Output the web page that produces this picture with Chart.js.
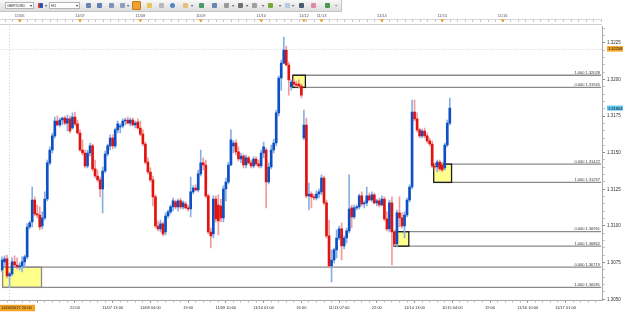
<!DOCTYPE html>
<html>
<head>
<meta charset="utf-8">
<script src="https://cdn.jsdelivr.net/npm/chart.js@4.4.1/dist/chart.umd.min.js"></script>
<style>
html, body { margin: 0; padding: 0; background: #fff; }
#wrap { position: relative; width: 625px; height: 313px; overflow: hidden; font-family: 'Liberation Sans', Arial, sans-serif; }
#chart { position: absolute; left: 0; top: 0; }
#toolbar { position: absolute; left: 0; top: 0; width: 341px; height: 11px; background: linear-gradient(#f8f8f8, #dcdcdc); border-bottom: 1px solid #c6c6c6; border-right: 1px solid #c6c6c6; }
.sel { position: absolute; top: 2px; height: 7px; background: #fff; border: 1px solid #b4b4b4; box-sizing: border-box; font-size: 4px; line-height: 6px; padding-left: 1px; color: #222; }
.sel b { position: absolute; right: 1px; top: 0; font-weight: normal; font-size: 4px; }
.ico { position: absolute; top: 3px; width: 5px; height: 5px; border-radius: 1px; }
.dd { position: absolute; top: 3px; font-size: 4px; color: #555; line-height: 5px; }
</style>
</head>
<body>
<div id="wrap">
  <canvas id="chart" width="625" height="313"></canvas>
  <div id="toolbar">
    <div class="sel" style="left:5px;width:29px">GBP/USD<b>&#9662;</b></div>
    <div class="ico" style="left:38px;background:linear-gradient(90deg,#d33 50%,#2458b8 50%)"></div>
    <div class="dd" style="left:45px">&#9662;</div>
    <div class="sel" style="left:49px;width:31px">H1<b>&#9662;</b></div>
    <div class="ico" style="left:86px;background:#6a86b0"></div>
    <div class="ico" style="left:97px;background:#5d7fb5"></div>
    <div class="ico" style="left:109px;background:#7d93b8"></div>
    <div class="ico" style="left:120px;background:#8aa0c0"></div>
    <div class="dd" style="left:127px">&#9662;</div>
    <div class="ico" style="left:132px;top:1px;width:9px;height:9px;background:#f0a030;border:1px solid #c77a10;box-sizing:border-box"></div>
    <div class="ico" style="left:147px;background:#e8c650"></div>
    <div class="ico" style="left:159px;background:#b8b8b8"></div>
    <div class="ico" style="left:170px;background:#4f86c8;border-radius:3px"></div>
    <div class="ico" style="left:183px;background:#e2c27a"></div>
    <div class="dd" style="left:191px">&#9662;</div>
    <div class="ico" style="left:199px;background:#4a9a64"></div>
    <div class="ico" style="left:212px;background:#6b87b8"></div>
    <div class="ico" style="left:224px;background:#9a9a9a"></div>
    <div class="dd" style="left:232px">&#9662;</div>
    <div class="ico" style="left:238px;background:#707070"></div>
    <div class="dd" style="left:246px">&#9662;</div>
    <div class="ico" style="left:252px;background:#a0a0a0"></div>
    <div class="dd" style="left:262px">&#9662;</div>
    <div class="ico" style="left:268px;background:#7aa83a"></div>
    <div class="dd" style="left:279px">&#9662;</div>
    <div class="ico" style="left:285px;background:#b9c9e0"></div>
    <div class="dd" style="left:292px">&#9662;</div>
    <div class="ico" style="left:299px;background:#4a5a70"></div>
    <div class="ico" style="left:311px;background:#e08aa0"></div>
    <div class="ico" style="left:325px;background:#4c9a4c"></div>
    <div class="dd" style="left:335px">&raquo;</div>
  </div>
</div>
<script>
// GBP/USD H1 candles (bar 0 = 11/05 17:00)
const opens = [
  1.30700, 1.30755, 1.30775, 1.30659, 1.30673, 1.30755, 1.30734, 1.30721, 1.30727, 1.30755,
  1.30789, 1.30993, 1.31027, 1.31177, 1.31082, 1.31075, 1.31000, 1.31055, 1.31184, 1.31430,
  1.31518, 1.31614, 1.31716, 1.31689, 1.31723, 1.31736, 1.31702, 1.31730, 1.31668, 1.31743,
  1.31696, 1.31634, 1.31518, 1.31498, 1.31409, 1.31498, 1.31546, 1.31389, 1.31341, 1.31314,
  1.31252, 1.31375, 1.31491, 1.31546, 1.31600, 1.31546, 1.31655, 1.31675, 1.31682, 1.31716,
  1.31723, 1.31702, 1.31723, 1.31689, 1.31709, 1.31668, 1.31627, 1.31559, 1.31436, 1.31368,
  1.31314, 1.31198, 1.31000, 1.30980, 1.31014, 1.30959, 1.31068, 1.31096, 1.31130, 1.31164,
  1.31130, 1.31171, 1.31130, 1.31150, 1.31123, 1.31116, 1.31232, 1.31259, 1.31246, 1.31355,
  1.31430, 1.31416, 1.31205, 1.30959, 1.30945, 1.31184, 1.31143, 1.31136, 1.31055, 1.31252,
  1.31300, 1.31416, 1.31546, 1.31566, 1.31505, 1.31457, 1.31477, 1.31416, 1.31464, 1.31430,
  1.31409, 1.31457, 1.31423, 1.31409, 1.31498, 1.31518, 1.31300, 1.31402, 1.31518, 1.31566,
  1.31771, 1.32009, 1.32111, 1.32200, 1.32098, 1.31948, 1.31982, 1.31968, 1.31968, 1.31955,
  1.31600, 1.31689, 1.31205, 1.31218, 1.31198, 1.31191, 1.31218, 1.31232, 1.31327, 1.31157,
  1.30932, 1.30727, 1.30768, 1.30837, 1.30918, 1.30980, 1.30864, 1.30918, 1.30966, 1.31123,
  1.31061, 1.31123, 1.31130, 1.31205, 1.31150, 1.31157, 1.31205, 1.31177, 1.31212, 1.31157,
  1.31171, 1.31143, 1.31184, 1.31048, 1.30980, 1.31157, 1.30959, 1.30877, 1.31089, 1.31055,
  1.31000, 1.31075, 1.31177, 1.31266, 1.31777, 1.31730, 1.31655, 1.31614, 1.31648, 1.31614,
  1.31580, 1.31559, 1.31409, 1.31402, 1.31436, 1.31416, 1.31396, 1.31552, 1.31702
];
const highs = [
  1.30789, 1.30796, 1.30802, 1.30686, 1.30782, 1.30796, 1.30782, 1.30748, 1.30789, 1.30802,
  1.31014, 1.31034, 1.31266, 1.31198, 1.31143, 1.31130, 1.31096, 1.31232, 1.31450, 1.31539,
  1.31634, 1.31743, 1.31750, 1.31736, 1.31743, 1.31750, 1.31757, 1.31750, 1.31771, 1.31777,
  1.31723, 1.31655, 1.31587, 1.31518, 1.31518, 1.31566, 1.31559, 1.31450, 1.31382, 1.31334,
  1.31402, 1.31511, 1.31559, 1.31621, 1.31621, 1.31668, 1.31716, 1.31696, 1.31730, 1.31736,
  1.31743, 1.31736, 1.31736, 1.31716, 1.31730, 1.31716, 1.31655, 1.31573, 1.31464, 1.31396,
  1.31341, 1.31212, 1.31034, 1.31041, 1.31027, 1.31089, 1.31109, 1.31143, 1.31191, 1.31177,
  1.31184, 1.31191, 1.31171, 1.31164, 1.31143, 1.31334, 1.31273, 1.31280, 1.31382, 1.31518,
  1.31464, 1.31450, 1.31218, 1.30986, 1.31205, 1.31205, 1.31212, 1.31184, 1.31273, 1.31327,
  1.31436, 1.31655, 1.31580, 1.31587, 1.31539, 1.31498, 1.31491, 1.31484, 1.31477, 1.31450,
  1.31471, 1.31471, 1.31450, 1.31518, 1.31573, 1.31532, 1.31430, 1.31552, 1.31593, 1.31791,
  1.32023, 1.32132, 1.32289, 1.32227, 1.32118, 1.31996, 1.32002, 1.31989, 1.31996, 1.31968,
  1.31791, 1.31736, 1.31293, 1.31232, 1.31218, 1.31239, 1.31252, 1.31348, 1.31341, 1.31177,
  1.31041, 1.30837, 1.30850, 1.30973, 1.31000, 1.31021, 1.30932, 1.30986, 1.31348, 1.31143,
  1.31143, 1.31143, 1.31218, 1.31232, 1.31171, 1.31266, 1.31225, 1.31232, 1.31225, 1.31184,
  1.31191, 1.31205, 1.31198, 1.31096, 1.31177, 1.31198, 1.30973, 1.31109, 1.31198, 1.31089,
  1.31096, 1.31191, 1.31280, 1.31859, 1.31859, 1.31771, 1.31668, 1.31661, 1.31668, 1.31634,
  1.31600, 1.31580, 1.31430, 1.31450, 1.31450, 1.31436, 1.31566, 1.31723, 1.31873
];
const lows = [
  1.30686, 1.30714, 1.30646, 1.30584, 1.30659, 1.30721, 1.30707, 1.30700, 1.30686, 1.30714,
  1.30775, 1.30980, 1.30993, 1.31068, 1.31055, 1.30973, 1.30980, 1.31041, 1.31171, 1.31416,
  1.31498, 1.31600, 1.31682, 1.31675, 1.31689, 1.31689, 1.31648, 1.31634, 1.31661, 1.31682,
  1.31627, 1.31511, 1.31484, 1.31396, 1.31396, 1.31477, 1.31375, 1.31327, 1.31300, 1.31198,
  1.31089, 1.31361, 1.31477, 1.31518, 1.31525, 1.31532, 1.31634, 1.31634, 1.31668, 1.31689,
  1.31696, 1.31682, 1.31682, 1.31668, 1.31661, 1.31614, 1.31546, 1.31423, 1.31355, 1.31300,
  1.31136, 1.30986, 1.30966, 1.30959, 1.30932, 1.30939, 1.31055, 1.31082, 1.31102, 1.31116,
  1.31102, 1.31116, 1.31116, 1.31116, 1.31102, 1.31061, 1.31218, 1.31239, 1.31232, 1.31341,
  1.31382, 1.31191, 1.30945, 1.30850, 1.30918, 1.31027, 1.30939, 1.31027, 1.31027, 1.31171,
  1.31286, 1.31409, 1.31498, 1.31484, 1.31443, 1.31430, 1.31396, 1.31396, 1.31423, 1.31396,
  1.31396, 1.31409, 1.31396, 1.31396, 1.31464, 1.31123, 1.31286, 1.31389, 1.31498, 1.31546,
  1.31750, 1.31927, 1.32105, 1.32091, 1.31893, 1.31927, 1.31955, 1.31948, 1.31941, 1.31873,
  1.31587, 1.31191, 1.31109, 1.31123, 1.31177, 1.31177, 1.31191, 1.31212, 1.31143, 1.30918,
  1.30714, 1.30618, 1.30748, 1.30782, 1.30905, 1.30768, 1.30843, 1.30884, 1.30952, 1.30986,
  1.31048, 1.31109, 1.31116, 1.31136, 1.31123, 1.31136, 1.31171, 1.31164, 1.31150, 1.31136,
  1.31130, 1.31136, 1.31034, 1.30966, 1.30959, 1.30734, 1.30864, 1.30857, 1.30993, 1.30986,
  1.30918, 1.31061, 1.31164, 1.31252, 1.31716, 1.31641, 1.31600, 1.31600, 1.31600, 1.31566,
  1.31546, 1.31396, 1.31382, 1.31368, 1.31375, 1.31368, 1.31382, 1.31539, 1.31689
];
const closes = [
  1.30768, 1.30775, 1.30659, 1.30673, 1.30755, 1.30734, 1.30721, 1.30727, 1.30755, 1.30789,
  1.30993, 1.31021, 1.31177, 1.31082, 1.31075, 1.30993, 1.31055, 1.31184, 1.31430, 1.31518,
  1.31614, 1.31716, 1.31689, 1.31723, 1.31736, 1.31702, 1.31730, 1.31648, 1.31743, 1.31696,
  1.31634, 1.31518, 1.31498, 1.31409, 1.31498, 1.31546, 1.31389, 1.31341, 1.31314, 1.31252,
  1.31375, 1.31491, 1.31546, 1.31600, 1.31546, 1.31655, 1.31696, 1.31682, 1.31716, 1.31723,
  1.31702, 1.31723, 1.31689, 1.31702, 1.31668, 1.31627, 1.31559, 1.31436, 1.31368, 1.31314,
  1.31198, 1.31000, 1.30980, 1.31014, 1.30945, 1.31068, 1.31096, 1.31130, 1.31171, 1.31130,
  1.31171, 1.31130, 1.31157, 1.31123, 1.31116, 1.31232, 1.31259, 1.31246, 1.31355, 1.31430,
  1.31416, 1.31205, 1.30959, 1.30932, 1.31184, 1.31048, 1.31034, 1.31055, 1.31252, 1.31300,
  1.31416, 1.31587, 1.31566, 1.31505, 1.31457, 1.31477, 1.31416, 1.31464, 1.31430, 1.31409,
  1.31457, 1.31423, 1.31409, 1.31498, 1.31539, 1.31300, 1.31402, 1.31518, 1.31566, 1.31771,
  1.32009, 1.32111, 1.32200, 1.32098, 1.31996, 1.31982, 1.31968, 1.31961, 1.31955, 1.31893,
  1.31689, 1.31205, 1.31218, 1.31198, 1.31191, 1.31218, 1.31232, 1.31327, 1.31157, 1.30932,
  1.30727, 1.30768, 1.30837, 1.30918, 1.30980, 1.30864, 1.30918, 1.30966, 1.31116, 1.31061,
  1.31123, 1.31130, 1.31205, 1.31150, 1.31157, 1.31205, 1.31177, 1.31212, 1.31157, 1.31171,
  1.31143, 1.31184, 1.31048, 1.30980, 1.31157, 1.30959, 1.30877, 1.31089, 1.31055, 1.31000,
  1.31075, 1.31177, 1.31266, 1.31777, 1.31730, 1.31655, 1.31614, 1.31648, 1.31614, 1.31580,
  1.31559, 1.31409, 1.31402, 1.31436, 1.31389, 1.31382, 1.31552, 1.31702, 1.31804
];

// hourly slots on the x axis (incl. empty space right of the last bar)
const slots = Array.from({ length: 239 }, (_, i) => i);

// bottom time labels, one every 15 bars starting at bar 14
const timeTicks = ['', '22:00', '11/07 13:00', '11/08 04:00', '19:00', '11/09 10:00', '11/10 01:00', '16:00',
  '11/13 07:00', '22:00', '11/14 13:00', '11/15 04:00', '19:00', '11/16 10:00', '11/17 01:00'];
const timeTickFirst = 14;
const timeTickEvery = 15;

// day markers on the top ruler
const dayBars = [7, 31, 55, 79, 103, 120, 127, 151, 175, 199];
const dayNames = ['11/06', '11/07', '11/08', '11/09', '11/10', '11/12', '11/13', '11/14', '11/15', '11/16'];

// yellow retracement zones (bar span, price levels, level ratios)
const zoneFrom = [0.25, 115.6, 155.8, 171.6];
const zoneTo = [15.7, 120.6, 161.7, 178.7];
const zoneTop = [1.30719, 1.32028, 1.30961, 1.31422];
const zoneBottom = [1.30581, 1.31945, 1.30862, 1.31297];
const zoneTopRatio = ['0.000', '1.000', '0.000', '0.000'];
const zoneBottomRatio = ['1.000', '0.000', '1.000', '1.000'];

// crosshair and price/time tags
const crossBar = 2.8;
const crossPrice = 1.32208;
const crossTime = '11/06/2017 20:00';

const yMin = 1.30495;
const yMax = 1.32364;

const isUp = opens.map((o, i) => closes[i] >= o);
const wickData = lows.map((l, i) => [l, highs[i]]);
const bodyData = opens.map((o, i) => [Math.min(o, closes[i]), Math.max(o, closes[i])]);

const FONT = "'Liberation Sans', Arial, sans-serif";

function isStep(v, per) {
    return Math.abs(v * per - Math.round(v * per)) < 1e-6;
}

function tag(ctx, x0, yc, w, h, bg, text) {
    ctx.fillStyle = bg;
    ctx.fillRect(x0, yc - h / 2, w, h);
    ctx.fillStyle = '#1a1a1a';
    ctx.font = '4px ' + FONT;
    ctx.textAlign = 'left';
    ctx.textBaseline = 'middle';
    ctx.fillText(text, x0 + 1, yc + 0.3);
}

const chromePlugin = {
    id: 'chrome',
    beforeDraw(chart) {
        const { ctx, chartArea: a, scales: { x } } = chart;
        ctx.save();
        // top ruler
        ctx.strokeStyle = '#d6d6d6';
        ctx.lineWidth = 1;
        ctx.beginPath();
        ctx.moveTo(0, 19.5);
        ctx.lineTo(a.right, 19.5);
        ctx.stroke();
        ctx.strokeStyle = '#c6c6c6';
        ctx.beginPath();
        for (let i = 1; i < slots.length; i += 3) {
            const px = Math.round(x.getPixelForValue(i)) + 0.5;
            ctx.moveTo(px, 19.5);
            ctx.lineTo(px, 22);
        }
        ctx.stroke();
        ctx.font = '4px ' + FONT;
        ctx.textAlign = 'center';
        ctx.textBaseline = 'middle';
        dayBars.forEach((b, k) => {
            const px = x.getPixelForValue(b);
            ctx.fillStyle = '#555';
            ctx.fillText(dayNames[k], px, 15.5);
            ctx.fillStyle = '#f29a18';
            ctx.beginPath();
            ctx.moveTo(px - 2, 19.5);
            ctx.lineTo(px + 2, 19.5);
            ctx.lineTo(px, 22.5);
            ctx.closePath();
            ctx.fill();
        });
        ctx.strokeStyle = '#d0d0d0';
        ctx.beginPath();
        ctx.moveTo(0, a.top - 1.5);
        ctx.lineTo(a.right, a.top - 1.5);
        ctx.stroke();
        ctx.restore();
    },
    beforeDatasetsDraw(chart) {
        const { ctx, chartArea: a, scales: { x, y } } = chart;
        ctx.save();
        zoneFrom.forEach((from, k) => {
            const x0 = x.getPixelForValue(from);
            const x1 = x.getPixelForValue(zoneTo[k]);
            const yt = y.getPixelForValue(zoneTop[k]);
            const yb = y.getPixelForValue(zoneBottom[k]);
            ctx.fillStyle = '#ffff8c';
            ctx.fillRect(x0, yt, x1 - x0, yb - yt);
            ctx.strokeStyle = '#8a8a8a';
            ctx.lineWidth = 1.3;
            ctx.beginPath();
            ctx.moveTo(x0, yt);
            ctx.lineTo(a.right - 1, yt);
            ctx.moveTo(x0, yb);
            ctx.lineTo(a.right - 1, yb);
            ctx.stroke();
            ctx.strokeStyle = k === 0 ? '#8a8a8a' : '#1e1e1e';
            ctx.strokeRect(x0, yt, x1 - x0, yb - yt);
            ctx.fillStyle = '#333';
            ctx.font = '4px ' + FONT;
            ctx.textAlign = 'right';
            ctx.textBaseline = 'alphabetic';
            ctx.fillText(zoneTopRatio[k] + ' ' + zoneTop[k].toFixed(5), a.right - 2, yt - 1.2);
            ctx.fillText(zoneBottomRatio[k] + ' ' + zoneBottom[k].toFixed(5), a.right - 2, yb - 1.2);
        });
        // crosshair
        ctx.strokeStyle = '#cfcfcf';
        ctx.lineWidth = 1;
        ctx.setLineDash([1, 2]);
        const cy = Math.round(y.getPixelForValue(crossPrice)) + 0.5;
        const cx = Math.round(x.getPixelForValue(crossBar)) + 0.5;
        ctx.beginPath();
        ctx.moveTo(a.left, cy);
        ctx.lineTo(a.right, cy);
        ctx.moveTo(cx, a.top);
        ctx.lineTo(cx, a.bottom);
        ctx.stroke();
        ctx.restore();
    },
    afterDraw(chart) {
        const { ctx, chartArea: a, scales: { y } } = chart;
        ctx.save();
        tag(ctx, a.right + 5, y.getPixelForValue(crossPrice), 16, 5.5, '#f5a526', crossPrice.toFixed(5));
        tag(ctx, a.right + 5, y.getPixelForValue(closes[closes.length - 1]), 16, 5, '#5cc6f2', closes[closes.length - 1].toFixed(5));
        tag(ctx, 0, 308, 35, 6.5, '#f5a526', crossTime);
        ctx.restore();
    }
};

new Chart(document.getElementById('chart'), {
    type: 'bar',
    data: {
        labels: slots,
        datasets: [
            {
                data: bodyData,
                backgroundColor: isUp.map(u => u ? '#0d4fc4' : '#e2130f'),
                barThickness: 2,
                minBarLength: 1,
                grouped: false,
                order: 1
            },
            {
                data: wickData,
                backgroundColor: isUp.map(u => u ? '#86b0e4' : '#f19c9c'),
                barThickness: 1,
                grouped: false,
                order: 2
            }
        ]
    },
    options: {
        responsive: false,
        animation: false,
        layout: { padding: { top: 26, left: 0, right: 0, bottom: 0 } },
        plugins: { legend: { display: false }, tooltip: { enabled: false } },
        scales: {
            x: {
                type: 'category',
                offset: true,
                grid: {
                    offset: false,
                    drawOnChartArea: false,
                    tickLength: 3,
                    tickColor: c => {
                        const i = c.index;
                        if ((i - timeTickFirst) % timeTickEvery === 0) return '#9a9a9a';
                        if (i % 3 === 2) return '#cfcfcf';
                        return 'rgba(0,0,0,0)';
                    }
                },
                border: { color: '#a6a6a6' },
                ticks: {
                    autoSkip: false,
                    maxRotation: 0,
                    padding: 2,
                    color: '#333',
                    font: { family: FONT, size: 4 },
                    callback: (v, i) => {
                        const k = (i - timeTickFirst) / timeTickEvery;
                        return Number.isInteger(k) && k >= 0 && k < timeTicks.length ? timeTicks[k] : '';
                    }
                },
                afterFit: s => { s.height = 13; }
            },
            y: {
                position: 'right',
                min: yMin,
                max: yMax,
                grid: {
                    drawOnChartArea: false,
                    tickLength: 3,
                    tickColor: c => {
                        const v = c.tick.value;
                        if (isStep(v, 400)) return '#8a8a8a';
                        if (isStep(v, 2000)) return '#c2c2c2';
                        return 'rgba(0,0,0,0)';
                    }
                },
                border: { color: '#a6a6a6' },
                ticks: {
                    autoSkip: false,
                    includeBounds: false,
                    stepSize: 0.0005,
                    padding: 2,
                    color: '#333',
                    font: { family: FONT, size: 4.5 },
                    callback: v => isStep(v, 400) ? v.toFixed(4) : ''
                },
                afterFit: s => { s.width = 23; }
            }
        }
    },
    plugins: [chromePlugin]
});
</script>
</body>
</html>
